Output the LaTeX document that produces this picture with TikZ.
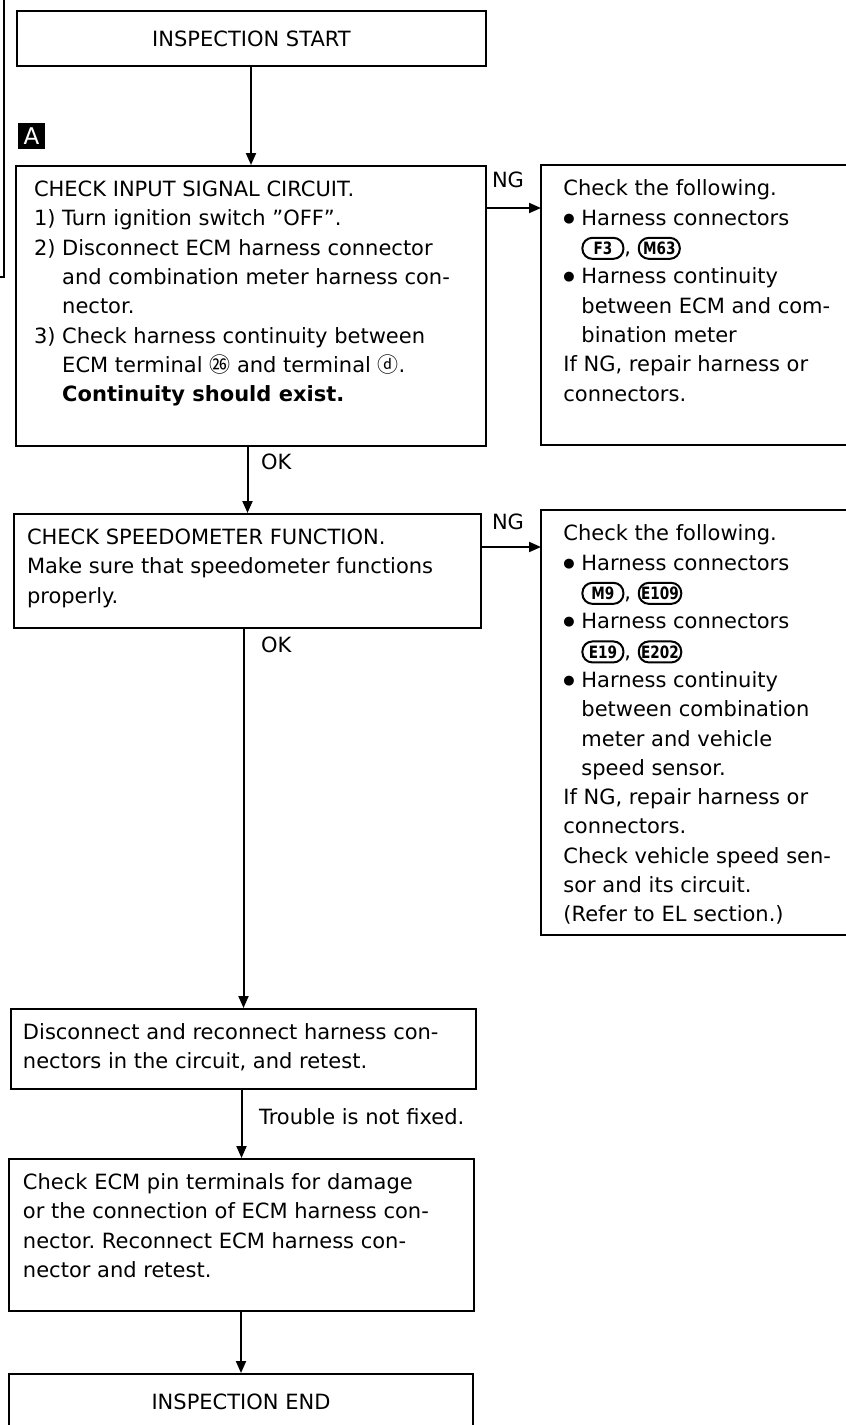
\documentclass[tikz,border=0pt]{standalone}
\usepackage{fontspec}
\setmainfont{DejaVu Sans}
\newfontfamily\cjk{Noto Sans CJK JP}
\newfontfamily\connfont[FakeStretch=0.8]{DejaVu Sans}
\usetikzlibrary{arrows.meta}
\frenchspacing
\newlength\px
\setlength\px{0.5pt}
% text of a box: height, width, lines
\newcommand\boxtext[3]{\parbox[c][#1\px][t]{#2\px}{\raggedright\strut#3}}
% connector mark
\newcommand\conn[1]{\tikz[baseline=(c#1.base)]\node[draw, line width=1pt, rounded corners=5pt, minimum width=41\px, minimum height=21\px, inner sep=1.2pt, font=\connfont\bfseries\fontsize{8.5pt}{9pt}\selectfont] (c#1) {#1};}
\newcommand\blt{\raisebox{1.6pt}{\fontsize{6.5pt}{8pt}\selectfont ●}\ }
\newcommand\ind{\hphantom{\blt}}

\begin{document}
\begin{tikzpicture}[x=0.5pt, y=-0.5pt, line width=1pt,
    font=\fontsize{10.5pt}{14.65pt}\selectfont,
    box/.style={draw, rectangle, anchor=north west, inner xsep=14\px, inner ysep=10\px},
    termbox/.style={draw, rectangle, anchor=north west, minimum height=55\px},
    lbl/.style={inner sep=0pt},
    arr/.style={-{Triangle[length=6pt, width=5pt]}}]
    \clip (0,0) rectangle (846,1425);
    \fill[white] (0,0) rectangle (846,1425);
    \draw (4,-5) -- (4,277) -- (0,277);

    \node[termbox, minimum width=469\px] (start) at (16,10) {INSPECTION START};
    \node[fill=black, text=white, anchor=north west, minimum width=27\px, minimum height=26\px, inner sep=0pt, font=\fontsize{11.5pt}{12pt}\selectfont] (mark) at (17,122) {A};

    \node[box, inner xsep=18\px] (chkin) at (15,165) {\boxtext{260}{434}{%
        CHECK INPUT SIGNAL CIRCUIT.\\
        1) Turn ignition switch ''OFF''.\\
        2) Disconnect ECM harness connector\\
        \hphantom{2) }and combination meter harness con-\\
        \hphantom{2) }nector.\\
        3) Check harness continuity between\\
        \hphantom{3) }ECM terminal {\cjk ㉖} and terminal {\cjk ⓓ}.\\
        \hphantom{3) }\textbf{Continuity should exist.}}};
    \node[box, inner xsep=22\px] (ngone) at (541,165) {\boxtext{260}{286}{%
        Check the following.\\
        \blt Harness connectors\\
        \ind\conn{F3}, \conn{M63}\\
        \blt Harness continuity\\
        \ind between ECM and com-\\
        \ind bination meter\\
        If NG, repair harness or\\
        connectors.}};

    \node[box, inner xsep=13\px] (chkspd) at (13,513) {\boxtext{94}{441}{%
        CHECK SPEEDOMETER FUNCTION.\\
        Make sure that speedometer functions\\
        properly.}};
    \node[box, inner xsep=22\px] (ngtwo) at (541,510) {\boxtext{405}{286}{%
        Check the following.\\
        \blt Harness connectors\\
        \ind\conn{M9}, \conn{E109}\\
        \blt Harness connectors\\
        \ind\conn{E19}, \conn{E202}\\
        \blt Harness continuity\\
        \ind between combination\\
        \ind meter and vehicle\\
        \ind speed sensor.\\
        If NG, repair harness or\\
        connectors.\\
        Check vehicle speed sen-\\
        sor and its circuit.\\
        (Refer to EL section.)}};

    \node[box, inner xsep=12\px] (recon) at (10,1008) {\boxtext{60}{441}{%
        Disconnect and reconnect harness con-\\
        nectors in the circuit, and retest.}};
    \node[box, inner xsep=14\px] (pins) at (8,1158) {\boxtext{132}{437}{%
        Check ECM pin terminals for damage\\
        or the connection of ECM harness con-\\
        nector. Reconnect ECM harness con-\\
        nector and retest.}};
    \node[termbox, minimum width=464\px] (finish) at (8,1373) {INSPECTION END};

    % connectors
    \draw[arr] (chkin.north |- start.south) -- (chkin.north);
    \draw[arr] (chkin.north east) ++(0,43) coordinate (nga) -- (nga -| ngone.west);
    \node[lbl] (ngla) at (508,180) {NG};
    \draw[arr] (chkspd.north |- chkin.south) -- (chkspd.north);
    \node[lbl, anchor=west] (oka) at (260,462) {OK};
    \draw[arr] (chkspd.north east) ++(0,34) coordinate (ngb) -- (ngb -| ngtwo.west);
    \node[lbl] (nglb) at (508,522) {NG};
    \draw[arr] (recon.north |- chkspd.south) -- (recon.north);
    \node[lbl, anchor=west] (okb) at (260,645) {OK};
    \draw[arr] (pins.north |- recon.south) -- (pins.north);
    \node[lbl, anchor=west] (notfixed) at (258,1117) {Trouble is not fixed.};
    \draw[arr] (finish.north |- pins.south) -- (finish.north);
\end{tikzpicture}
\end{document}
